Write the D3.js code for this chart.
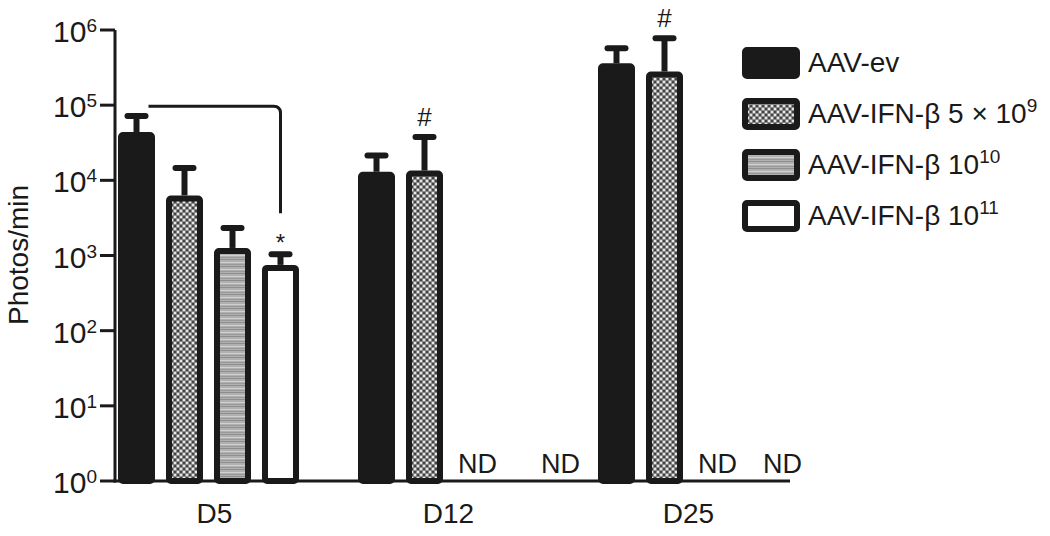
<!DOCTYPE html>
<html><head><meta charset="utf-8">
<script src="https://cdn.jsdelivr.net/npm/d3@7"></script>
<style>
html,body{margin:0;padding:0;background:#fff;}
text{font-family:"Liberation Sans",Arial,Helvetica,sans-serif;fill:#1a1a1a;}
</style></head>
<body><svg id="chart" width="1050" height="536"></svg>
<script>
const groups = ["D5","D12","D25"];
const series = ["AAV-ev","AAV-IFN-β 5×10^9","AAV-IFN-β 10^10","AAV-IFN-β 10^11"];
// mean values per group (null = ND)
const meanEv    = [44000, 13000, 360000];
const meanIfn5e9 = [6300, 13500, 280000];
const meanIfn10  = [1260, null, null];
const meanIfn11  = [750, null, null];
// upper error values
const errEv    = [74000, 22000, 590000];
const errIfn5e9 = [15000, 39000, 800000];
const errIfn10  = [2400, null, null];
const errIfn11  = [1070, null, null];
const yTickExps = [0,1,2,3,4,5,6];
const marks = [{g:"D12", s:1, t:"#"},{g:"D25", s:1, t:"#"},{g:"D5", s:3, t:"*"}];

const means = [meanEv, meanIfn5e9, meanIfn10, meanIfn11];
const errs = [errEv, errIfn5e9, errIfn10, errIfn11];

const svg = d3.select("#chart");
const dark = "#1a1a1a";
const defs = svg.append("defs");
// dotted pattern
const p1 = defs.append("pattern").attr("id","dots").attr("patternUnits","userSpaceOnUse").attr("width",6).attr("height",6);
p1.append("rect").attr("width",6).attr("height",6).attr("fill","#8a8a8a");
p1.append("rect").attr("x",0).attr("y",0).attr("width",2).attr("height",2).attr("fill","#e8e8e8");
p1.append("rect").attr("x",3).attr("y",3).attr("width",2).attr("height",2).attr("fill","#e8e8e8");
p1.append("rect").attr("x",3).attr("y",0).attr("width",2).attr("height",2).attr("fill","#444");
p1.append("rect").attr("x",0).attr("y",3).attr("width",2).attr("height",2).attr("fill","#444");
// stripes pattern
const p2 = defs.append("pattern").attr("id","stripes").attr("patternUnits","userSpaceOnUse").attr("width",8).attr("height",7);
p2.append("rect").attr("width",8).attr("height",7).attr("fill","#b0b0b0");
p2.append("rect").attr("y",0).attr("width",8).attr("height",1).attr("fill","#8e8e8e");
p2.append("rect").attr("y",3).attr("width",8).attr("height",1).attr("fill","#d0d0d0");
p2.append("rect").attr("y",5).attr("width",8).attr("height",1).attr("fill","#999");
const fills = [dark, "url(#dots)", "url(#stripes)", "#ffffff"];

const y = d3.scaleLog().domain([1,1e6]).range([481,30]);
const x0 = d3.scaleBand().domain(groups).range([118, 118+720]);
const x1 = d3.scaleBand().domain(d3.range(4)).range([0,181]).paddingInner(0.229).paddingOuter(0);
const bw = x1.bandwidth();
const sw = 6;
const FS = 28, SUP = 19;

// y axis
const axisX = 115;
svg.append("line").attr("x1",axisX).attr("x2",axisX).attr("y1",y(1e6)).attr("y2",y(1)+1.5)
  .attr("stroke",dark).attr("stroke-width",3);
const tk = svg.append("g");
yTickExps.forEach(e=>{
  const yy = y(Math.pow(10,e));
  tk.append("line").attr("x1",100).attr("x2",axisX).attr("y1",yy).attr("y2",yy).attr("stroke",dark).attr("stroke-width",3);
  const t = tk.append("text").attr("x",97).attr("y",yy+12).attr("text-anchor","end").attr("font-size",30);
  t.append("tspan").text("10");
  t.append("tspan").attr("dy",-10).attr("font-size",SUP).text(e);
});
svg.append("text").attr("transform","translate(28,255) rotate(-90)").attr("text-anchor","middle")
  .attr("font-size",FS).text("Photos/min");

// x axis
svg.append("line").attr("x1",axisX-1.5).attr("x2",790).attr("y1",y(1)).attr("y2",y(1))
  .attr("stroke",dark).attr("stroke-width",3);
groups.forEach(g=>{
  svg.append("text").attr("x",x0(g)+181/2+(g==="D5"?6:0)).attr("y",523).attr("text-anchor","middle")
    .attr("font-size",FS).text(g);
});

// bars
groups.forEach((g,gi)=>{
  for(let s=0;s<4;s++){
    const v = means[s][gi];
    const bx = x0(g)+x1(s);
    if(v==null){
      const off = s===3 ? (g==="D12"?40:22) : 5;
      svg.append("text").attr("x",bx+bw/2+off).attr("y",473).attr("text-anchor","middle")
        .attr("font-size",27).text("ND");
      continue;
    }
    const e = errs[s][gi];
    const cx = bx+bw/2;
    // error line
    svg.append("line").attr("x1",cx).attr("x2",cx).attr("y1",y(v)).attr("y2",y(e))
      .attr("stroke",dark).attr("stroke-width",6);
    svg.append("line").attr("x1",cx-9).attr("x2",cx+9).attr("y1",y(e)+1).attr("y2",y(e)+1)
      .attr("stroke",dark).attr("stroke-width",6).attr("stroke-linecap","round");
    svg.append("rect").attr("x",bx+sw/2).attr("y",y(v)+sw/2).attr("width",bw-sw)
      .attr("height",y(1)-y(v)-sw/2).attr("fill",fills[s]).attr("stroke",dark)
      .attr("stroke-width",sw).attr("rx",2);
  }
});

// significance marks
marks.forEach(m=>{
  const gi = groups.indexOf(m.g);
  const cx = x0(m.g)+x1(m.s)+bw/2;
  const yy = y(errs[m.s][gi]);
  svg.append("text").attr("x",cx).attr("y", m.t==="*" ? yy-2 : yy-10).attr("text-anchor","middle")
    .attr("font-size", m.t==="*"?24:26).text(m.t);
});

// bracket D5 ev vs 10^11
{
  const xa = x0("D5")+x1(0)+bw/2+12;
  const xb = x0("D5")+x1(3)+bw/2;
  const yt = y(1e5)+1;
  const yb = y(errs[3][0])-40;
  svg.append("path").attr("d",`M${xa},${yt} H${xb-7} Q${xb},${yt} ${xb},${yt+7} V${yb}`)
    .attr("fill","none").attr("stroke",dark).attr("stroke-width",3);
}

// legend
const lg = svg.append("g");
const legLabels = [["AAV-ev",null],["AAV-IFN-β 5 × 10","9"],["AAV-IFN-β 10","10"],["AAV-IFN-β 10","11"]];
legLabels.forEach((l,i)=>{
  const ly = 47 + i*51;
  lg.append("rect").attr("x",742+3).attr("y",ly+3).attr("width",58-6).attr("height",32-6)
    .attr("fill",fills[i]).attr("stroke",dark).attr("stroke-width",6).attr("rx",2);
  const t = lg.append("text").attr("x",808).attr("y",ly+25).attr("font-size",FS);
  t.append("tspan").text(l[0]);
  if(l[1]) t.append("tspan").attr("dy",-11).attr("font-size",SUP).text(l[1]);
});
</script></body></html>
